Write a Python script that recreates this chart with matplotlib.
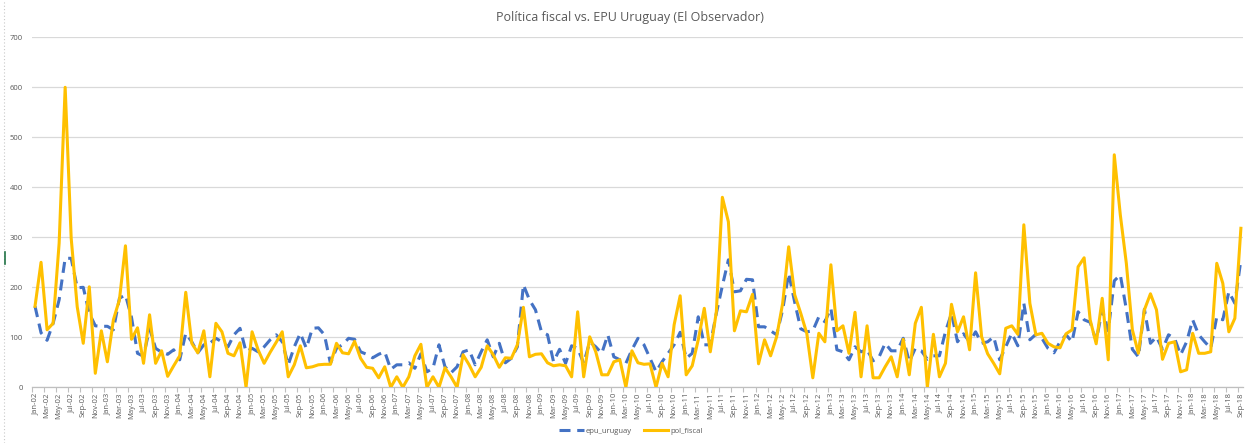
import matplotlib
matplotlib.use("Agg")
import matplotlib.pyplot as plt
import pandas as pd
import numpy as np

# ---- data (monthly, Jan-2002 .. Sep-2018) ----
months = pd.date_range("2002-01-01", "2018-09-01", freq="MS")
month_labels = [d.strftime("%b-%y") for d in months]

epu_uruguay = [
    162, 109, 94, 128, 175, 258, 258, 199, 200, 148, 123, 122, 122, 115, 178, 185, 140, 68, 62, 118,
    78, 70, 66, 75, 55, 108, 91, 69, 85, 88, 98, 91, 81, 105, 118, 71, 78, 71, 81, 95,
    105, 91, 45, 81, 108, 78, 118, 119, 105, 48, 78, 85, 98, 96, 71, 66, 59, 66, 71, 36,
    45, 45, 49, 38, 67, 31, 38, 85, 41, 29, 41, 71, 75, 45, 71, 95, 61, 88, 49, 58,
    81, 205, 175, 155, 111, 105, 51, 76, 48, 83, 78, 48, 91, 81, 68, 105, 61, 55, 48, 75,
    98, 85, 58, 31, 51, 68, 85, 110, 58, 68, 141, 85, 85, 148, 203, 255, 191, 193, 216, 215,
    121, 121, 113, 105, 155, 228, 170, 117, 111, 113, 141, 131, 158, 75, 71, 55, 81, 71, 75, 53,
    61, 88, 73, 73, 98, 51, 78, 73, 56, 63, 63, 111, 148, 91, 107, 91, 111, 88, 91, 101,
    55, 81, 108, 83, 168, 95, 106, 98, 78, 69, 91, 105, 91, 151, 135, 130, 93, 155, 113, 213,
    225, 156, 76, 61, 156, 88, 101, 76, 105, 98, 65, 91, 135, 105, 91, 78, 141, 135, 191, 168,
    255,
]

pol_fiscal = [
    162, 250, 115, 128, 288, 600, 298, 161, 88, 201, 28, 113, 51, 135, 175, 283, 96, 119, 48, 145,
    48, 73, 22, 43, 63, 190, 88, 69, 113, 21, 128, 111, 68, 63, 89, 0, 111, 75, 48, 70,
    90, 111, 21, 45, 83, 39, 41, 45, 46, 46, 88, 69, 67, 92, 58, 40, 38, 19, 41, 0,
    21, 0, 21, 63, 86, 0, 21, 0, 39, 21, 0, 65, 45, 21, 40, 83, 65, 40, 59, 58,
    85, 160, 61, 66, 67, 49, 43, 45, 43, 21, 151, 21, 101, 71, 25, 25, 51, 55, 0, 73,
    49, 46, 47, 0, 48, 21, 125, 183, 25, 43, 95, 158, 71, 151, 380, 331, 113, 153, 151, 186,
    47, 95, 63, 101, 168, 281, 185, 148, 108, 19, 108, 91, 245, 113, 123, 68, 150, 21, 123, 19,
    19, 41, 61, 21, 96, 25, 128, 160, 0, 106, 21, 48, 166, 111, 141, 75, 229, 101, 67, 48,
    27, 118, 123, 106, 325, 168, 105, 108, 88, 81, 79, 107, 115, 241, 259, 135, 87, 178, 55, 465,
    345, 248, 115, 68, 155, 187, 155, 56, 88, 91, 31, 35, 108, 68, 68, 71, 248, 208, 111, 138,
    318,
]

assert len(epu_uruguay) == len(months) == len(pol_fiscal)

title = "Política fiscal vs. EPU Uruguay (El Observador)"
y_ticks = [0, 100, 200, 300, 400, 500, 600, 700]

W, H = 1253, 443
fig = plt.figure(figsize=(W / 100, H / 100), dpi=100)
fig.patch.set_facecolor("white")
plt.rcParams["font.family"] = ["Open Sans", "DejaVu Sans"]

txt = "#595959"
ax = fig.add_axes([32 / W, (H - 387.3) / H, 1211 / W, 350 / H])
x = np.arange(len(months))

ax.plot(x, epu_uruguay, color="#4472C4", lw=2.2, dashes=(3.6, 2.2),
        label="epu_uruguay", zorder=3, solid_capstyle="butt", dash_capstyle="butt")
ax.plot(x, pol_fiscal, color="#FFC000", lw=2.2, label="pol_fiscal", zorder=4,
        solid_joinstyle="round")

ax.set_xlim(-0.35, len(months) - 1 + 0.35)
ax.set_ylim(0, 700)
ax.set_yticks(y_ticks)
ax.set_yticklabels([str(v) for v in y_ticks], fontsize=5.5, color=txt)
ax.tick_params(axis="y", length=0, pad=6.5)
ax.grid(axis="y", color="#d9d9d9", lw=0.9, zorder=0)
ax.set_axisbelow(True)

ax.set_xticks(x[::2])
ax.set_xticklabels(month_labels[::2], rotation=90, fontsize=5.5, color=txt)
ax.set_xticks(np.arange(-0.5, len(months), 2), minor=True)
ax.tick_params(axis="x", which="major", length=0, pad=4)
ax.tick_params(axis="x", which="minor", length=3.5, color="#bfbfbf", width=0.8)

for s in ["top", "right", "left"]:
    ax.spines[s].set_visible(False)
ax.spines["bottom"].set_color("#bfbfbf")
ax.spines["bottom"].set_linewidth(0.9)

fig.text(630 / W, 1 - 18 / H, title, ha="center", va="center", fontsize=9, color=txt)

leg = fig.legend(loc="center", bbox_to_anchor=(631 / W, 1 - 431 / H), ncol=2,
                 frameon=False, fontsize=5.5, handlelength=3.2, columnspacing=1.5,
                 handletextpad=0.3)
for t in leg.get_texts():
    t.set_color(txt)

# window-edge artifact at far left
fig.add_artist(plt.Line2D([4 / W, 4 / W], [0, 1], color="#c8c8c8", lw=0.8, ls=(0, (1, 2))))
fig.add_artist(plt.Line2D([5 / W, 5 / W], [1 - 252 / H, 1 - 264 / H], color="#217346", lw=1.2))

fig.savefig("out.png", dpi=100, facecolor="white")
